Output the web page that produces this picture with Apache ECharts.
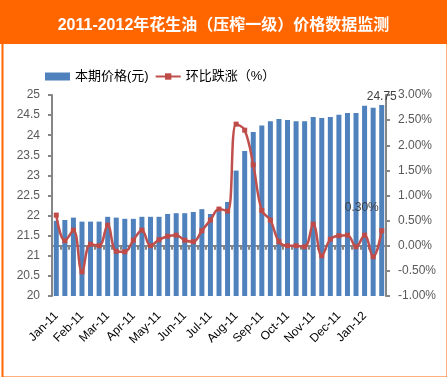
<!DOCTYPE html>
<html>
<head>
<meta charset="utf-8">
<script src="https://cdn.jsdelivr.net/npm/echarts@6/dist/echarts.min.js"></script>
<style>
  html, body { margin: 0; padding: 0; background: #fff; }
  #chart { width: 447px; height: 377px; }
</style>
</head>
<body>
<div id="chart"></div>
<script>
// month labels shown on the x axis (one label every 3 periods)
const months = ["Jan-11", "Feb-11", "Mar-11", "Apr-11", "May-11", "Jun-11", "Jul-11",
  "Aug-11", "Sep-11", "Oct-11", "Nov-11", "Dec-11", "Jan-12"];
// three periods (上旬/中旬/下旬) per month
const periods = ["上旬", "中旬", "下旬"];
// 本期价格(元)
const priceValues = [21.87, 21.89, 21.95, 21.85, 21.85, 21.85, 21.97, 21.95, 21.92, 21.92,
  21.97, 21.97, 21.97, 22.04, 22.06, 22.06, 22.09, 22.16, 22.04, 22.11,
  22.34, 23.12, 23.61, 24.08, 24.24, 24.35, 24.40, 24.38, 24.35, 24.35,
  24.45, 24.43, 24.45, 24.51, 24.55, 24.55, 24.73, 24.68, 24.75];
// 环比跌涨（%）
const changeValues = [0.61, 0.10, 0.31, -0.52, 0.03, 0.00, 0.41, -0.11, -0.12, 0.11,
  0.31, 0.00, 0.12, 0.19, 0.21, 0.11, 0.08, 0.30, 0.51, 0.73,
  0.69, 2.42, 2.30, 1.61, 0.70, 0.51, 0.08, 0.00, 0.00, -0.02,
  0.43, -0.20, 0.13, 0.20, 0.21, -0.02, 0.21, -0.22, 0.30];

const categories = [];
months.forEach(function (m) {
  periods.forEach(function (p) { categories.push(m + "|" + p); });
});

const lastIdx = priceValues.length - 1;
const barData = priceValues.map(function (v, i) {
  if (i !== lastIdx) return v;
  return {
    value: v,
    label: { show: true, position: "top", distance: 2, color: "#404040", fontSize: 12,
      formatter: function (p) { return p.value.toFixed(2); } }
  };
});
const lineData = changeValues.map(function (v, i) {
  if (i !== lastIdx) return v;
  return {
    value: v,
    label: { show: true, position: "top", offset: [-20, -9], color: "#404040", fontSize: 12,
      formatter: function (p) { return p.value.toFixed(2) + "%"; } }
  };
});

const font = "'Liberation Sans', 'Noto Sans CJK SC', sans-serif";
const axisGray = "#868686";

const myChart = echarts.init(document.getElementById("chart"));
const option = {
  animation: false,
  textStyle: { fontFamily: font },
  graphic: [
    { type: "rect", left: 0, top: 0, shape: { width: 447, height: 44 },
      style: { fill: "#FF6600" }, z: -1 },
    { type: "rect", left: 0, top: 0, shape: { x: 1, y: 1, width: 445, height: 375 },
      style: { fill: null, stroke: "#FF6600", lineWidth: 2 }, z: -1 }
  ],
  title: {
    text: "2011-2012年花生油（压榨一级）价格数据监测",
    left: "center",
    top: 13,
    textStyle: { color: "#fff", fontSize: 16, fontWeight: "bold", fontFamily: font }
  },
  legend: {
    left: 40,
    top: 65,
    itemGap: 6,
    itemWidth: 25,
    itemHeight: 8,
    textStyle: { color: "#000", fontSize: 13, fontFamily: font },
    data: [
      { name: "本期价格(元)", icon: "rect" },
      { name: "环比跌涨（%）" }
    ]
  },
  grid: { left: 52, right: 61, top: 95, bottom: 81 },
  xAxis: {
    type: "category",
    data: categories,
    boundaryGap: true,
    axisLine: { lineStyle: { color: axisGray, width: 2 } },
    axisTick: { show: true, interval: 0, length: 4, lineStyle: { color: axisGray, width: 2 } },
    axisLabel: {
      interval: 2,
      rotate: 45,
      margin: 18,
      color: "#000",
      fontSize: 12,
      formatter: function (v) { return v.split("|")[0]; }
    },
    splitLine: { show: false }
  },
  yAxis: [
    {
      type: "value",
      min: 20,
      max: 25,
      interval: 0.5,
      axisLine: { show: true, lineStyle: { color: axisGray, width: 2 } },
      axisTick: { show: true, length: 4, lineStyle: { color: axisGray, width: 2 } },
      axisLabel: { color: "#595959", fontSize: 12, margin: 12 },
      splitLine: { show: false }
    },
    {
      type: "value",
      min: -1,
      max: 3,
      interval: 0.5,
      axisLine: { show: true, lineStyle: { color: axisGray, width: 2 } },
      axisTick: { show: true, length: 4, lineStyle: { color: axisGray, width: 2 } },
      axisLabel: {
        color: "#595959", fontSize: 12, margin: 12,
        formatter: function (v) { return v.toFixed(2) + "%"; }
      },
      splitLine: { show: false }
    }
  ],
  series: [
    {
      name: "本期价格(元)",
      type: "bar",
      yAxisIndex: 0,
      barWidth: 5,
      itemStyle: { color: "#4F81BD" },
      data: barData
    },
    {
      name: "环比跌涨（%）",
      type: "line",
      yAxisIndex: 1,
      smooth: 0.4,
      symbol: "rect",
      symbolSize: 5,
      itemStyle: { color: "#BE4B48" },
      lineStyle: { width: 2.5, color: "#C0504D" },
      data: lineData,
      z: 3
    }
  ]
};
myChart.setOption(option);
window.onresize = myChart.resize;
</script>
</body>
</html>
